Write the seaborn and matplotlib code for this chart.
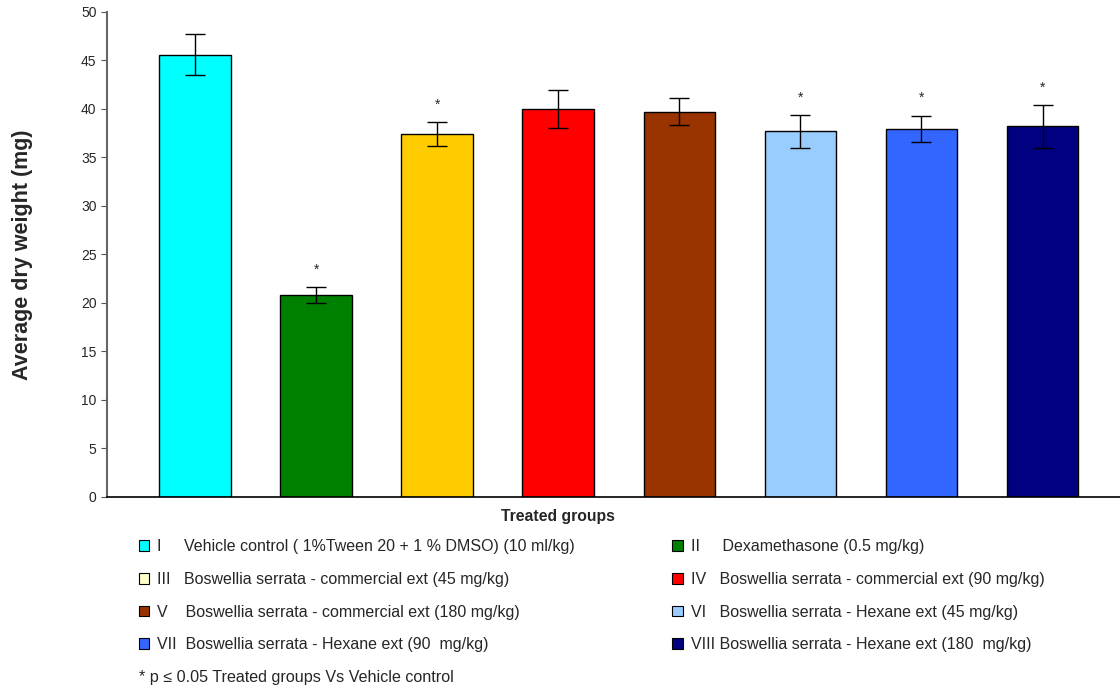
"""
Average dry weight per treated group, bar chart with SE bars
"""
import pandas as pd
import seaborn as sns
from matplotlib import pyplot as plt
from matplotlib.patches import Patch

groups = ['I', 'II', 'III', 'IV', 'V', 'VI', 'VII', 'VIII']
means = [45.6, 20.8, 37.4, 39.95, 39.7, 37.7, 37.95, 38.2]
errors = [2.1, 0.8, 1.25, 1.95, 1.4, 1.7, 1.35, 2.2]
significant = [False, True, True, False, False, True, True, True]
bar_colors = ['#00FFFF', '#008000', '#FFCC00', '#FF0000', '#993300', '#99CCFF', '#3366FF', '#000080']
legend_colors = ['#00FFFF', '#008000', '#FFFFCC', '#FF0000', '#993300', '#99CCFF', '#3366FF', '#000080']
legend_labels = [
    'I     Vehicle control ( 1%Tween 20 + 1 % DMSO) (10 ml/kg)',
    'II     Dexamethasone (0.5 mg/kg)',
    'III   Boswellia serrata - commercial ext (45 mg/kg)',
    'IV   Boswellia serrata - commercial ext (90 mg/kg)',
    'V    Boswellia serrata - commercial ext (180 mg/kg)',
    'VI   Boswellia serrata - Hexane ext (45 mg/kg)',
    'VII  Boswellia serrata - Hexane ext (90  mg/kg)',
    'VIII Boswellia serrata - Hexane ext (180  mg/kg)',
]
footnote = '* p \u2264 0.05 Treated groups Vs Vehicle control'

sns.set_style('white')
plt.rcParams['font.family'] = ['Liberation Sans', 'DejaVu Sans']

df = pd.DataFrame({'group': groups, 'mean': means, 'err': errors})

fig = plt.figure(figsize=(11.2, 6.89), dpi=100)
ax = fig.add_axes([0.0955, 0.2787, 0.9045, 0.704])

sns.barplot(data=df, x='group', y='mean', hue='group', palette=bar_colors,
            saturation=1, legend=False, width=0.59, edgecolor='black',
            linewidth=1.0, ax=ax)
ax.errorbar(range(len(groups)), means, yerr=errors, fmt='none',
            ecolor='black', elinewidth=1.0, capsize=7, capthick=1.0)

for i, (m, e, s) in enumerate(zip(means, errors, significant)):
    if s:
        ax.text(i, m + e + 1.8, '*', ha='center', va='center', fontsize=10)

ax.set_xlim(-0.727, 7.64)
ax.set_ylim(0, 50)
ax.set_yticks(range(0, 51, 5))
ax.tick_params(axis='y', labelsize=10, length=4, direction='out', left=True, color='#555555')
ax.set_xticks([])
ax.set_xlabel('Treated groups', fontsize=11.3, fontweight='bold')
ax.xaxis.set_label_coords(0.445, -0.025)
ax.xaxis.label.set_va('top')
ax.set_ylabel('Average dry weight (mg)', fontsize=15.5, fontweight='bold')
ax.yaxis.set_label_coords(-0.073, 0.5)

for side in ['top', 'right']:
    ax.spines[side].set_visible(False)
ax.spines['left'].set_color('#666666')
ax.spines['left'].set_linewidth(1.5)
ax.spines['bottom'].set_color('black')
ax.spines['bottom'].set_linewidth(1.2)

handles = [Patch(facecolor=c, edgecolor='black', linewidth=0.8) for c in legend_colors]
order = [0, 2, 4, 6, 1, 3, 5, 7]
fig.legend([handles[i] for i in order], [legend_labels[i] for i in order],
           ncol=2, loc='upper left', bbox_to_anchor=(0.111, 0.238), frameon=False,
           fontsize=11.5, handlelength=0.65, handleheight=0.65, handletextpad=0.5,
           labelspacing=1.1, columnspacing=6.1)
fig.text(0.124, 0.017, footnote, fontsize=11.6, ha='left', va='center')

fig.savefig('out.png', dpi=100)
